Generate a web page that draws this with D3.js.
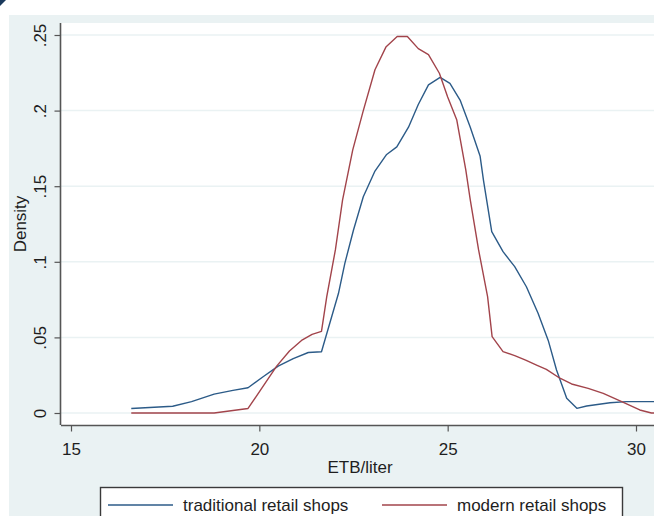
<!DOCTYPE html>
<html>
<head>
<meta charset="utf-8">
<script src="https://cdn.jsdelivr.net/npm/d3@7"></script>
<style>
	body { margin: 0; background: #fff; }
	text { font-family: "Liberation Sans", Arial, sans-serif; fill: #1e1e1e; }
</style>
</head>
<body>
<svg id="chart" width="654" height="516"></svg>
<script>
// ETB/liter vs density
const tradX = [16.6, 17.7, 18.2, 18.8, 19.3, 19.7, 20.1, 20.5, 20.9, 21.3, 21.65, 22.1, 22.27, 22.5, 22.76, 23.07, 23.38, 23.65, 23.96, 24.22, 24.49, 24.8, 25.06, 25.33, 25.6, 25.86, 25.95, 26.17, 26.47, 26.78, 27.09, 27.4, 27.67, 27.89, 28.16, 28.43, 28.69, 29.31, 29.75, 30.6]
const tradY = [.003, .0045, .0075, .0125, .015, .0167, .024, .031, .036, .040, .0405, .079, .099, .121, .143, .160, .171, .176, .189, .204, .217, .222, .218, .207, .189, .170, .154, .120, .1067, .0968, .0835, .066, .048, .0284, .0097, .0031, .0046, .0068, .0075, .0075]

const modX = [16.6, 18.8, 19.7, 20.46, 20.8, 21.12, 21.4, 21.65, 21.79, 22.02, 22.21, 22.48, 22.76, 23.07, 23.36, 23.66, 23.93, 24.22, 24.49, 24.78, 25.0, 25.24, 25.48, 25.6, 25.82, 26.06, 26.18, 26.47, 26.78, 27.07, 27.36, 27.62, 27.98, 28.29, 28.73, 29.13, 29.62, 30.1, 30.41, 30.6]
const modY = [0, 0, .003, .031, .041, .048, .052, .054, .077, .108, .141, .174, .200, .227, .242, .249, .249, .241, .237, .2247, .209, .194, .161, .141, .108, .077, .0505, .0406, .038, .035, .0317, .0289, .023, .0192, .0163, .013, .0075, .002, 0, 0]

const xTicks = [15, 20, 25, 30]
const yTicks = [0, .05, .1, .15, .2, .25]
const seriesNames = ["traditional retail shops", "modern retail shops"]
const seriesColors = ["#2c5b88", "#a2444b"]

const svg = d3.select("#chart")
const W = 654, H = 516

// stata-ish background
svg.append("rect").attr("x", 9).attr("y", 15).attr("width", W).attr("height", H).attr("fill", "#eaf2f3")
svg.append("path").attr("d", "M0,0 L6,0 L0,6 Z").attr("fill", "#1a3a5c")

const plotL = 61, plotT = 23, plotB = 425
svg.append("rect").attr("x", plotL).attr("y", plotT).attr("width", W - plotL).attr("height", plotB - plotT).attr("fill", "#fff")

const x = d3.scaleLinear().domain([15, 30]).range([71, 636])
const y = d3.scaleLinear().domain([0, .25]).range([413, 35])

const fmt = d => d === 0 ? "0" : String(d).replace(/^0/, "")

// grid
svg.append("g")
	.selectAll("line")
	.data(yTicks)
	.join("line")
		.attr("x1", plotL).attr("x2", W)
		.attr("y1", d => y(d)).attr("y2", d => y(d))
		.attr("stroke", "#eaf2f3").attr("stroke-width", 1.5)

// y axis
const yAxis = svg.append("g")
	.attr("transform", `translate(${plotL - 0.5},0)`)
	.call(d3.axisLeft(y).tickValues(yTicks).tickFormat(fmt).tickSize(6).tickPadding(0))
yAxis.select(".domain").attr("d", `M0,${plotT}V${plotB}`).attr("stroke", "#555").attr("stroke-width", 1.6)
yAxis.selectAll(".tick line").attr("stroke", "#555").attr("stroke-width", 1.2)
yAxis.selectAll(".tick text")
	.attr("x", null).attr("dy", null)
	.attr("transform", "translate(-15,0) rotate(-90)")
	.attr("text-anchor", "middle")
	.style("font-size", "17px")
	.style("font-family", "'Liberation Sans', Arial, sans-serif")
	.attr("fill", "#1e1e1e")

// x axis
const xAxis = svg.append("g")
	.attr("transform", `translate(0,${plotB + 0.5})`)
	.call(d3.axisBottom(x).tickValues(xTicks).tickFormat(d3.format("d")).tickSize(6).tickPadding(0))
xAxis.select(".domain").attr("d", `M${plotL},0H${W}`).attr("stroke", "#555").attr("stroke-width", 1.6)
xAxis.selectAll(".tick line").attr("stroke", "#555").attr("stroke-width", 1.2)
xAxis.selectAll(".tick text")
	.attr("y", 29.5).attr("dy", null)
	.style("font-size", "17px")
	.style("font-family", "'Liberation Sans', Arial, sans-serif")
	.attr("fill", "#1e1e1e")

svg.append("text")
	.attr("x", 360).attr("y", 472.5)
	.attr("text-anchor", "middle")
	.style("font-size", "17px")
	.text("ETB/liter")

svg.append("text")
	.attr("transform", `translate(26,${(plotT + plotB) / 2}) rotate(-90)`)
	.attr("text-anchor", "middle")
	.style("font-size", "17px")
	.text("Density")

// curves
const line = d3.line().x(d => x(d[0])).y(d => y(d[1]))
const curves = [d3.zip(tradX, tradY), d3.zip(modX, modY)]

svg.append("defs").append("clipPath").attr("id", "plotClip")
	.append("rect").attr("x", plotL).attr("y", plotT).attr("width", W - plotL).attr("height", plotB - plotT)

svg.append("g")
	.attr("clip-path", "url(#plotClip)")
	.selectAll("path")
	.data(curves)
	.join("path")
		.attr("d", line)
		.attr("fill", "none")
		.attr("stroke", (d, i) => seriesColors[i])
		.attr("stroke-width", 1.4)
		.attr("stroke-linejoin", "round")

// legend
const legend = svg.append("g")
legend.append("rect")
	.attr("x", 100.5).attr("y", 487.5).attr("width", 522).attr("height", 40)
	.attr("fill", "#fff").attr("stroke", "#3a3a3a").attr("stroke-width", 1.4)

const legX = [108, 382]
const entry = legend.selectAll("g.entry")
	.data(seriesNames)
	.join("g")
		.classed("entry", true)
		.attr("transform", (d, i) => `translate(${legX[i]},505)`)
entry.append("line")
	.attr("x1", 0).attr("x2", 65)
	.attr("stroke", (d, i) => seriesColors[i]).attr("stroke-width", 1.4)
entry.append("text")
	.attr("x", 75).attr("y", 6)
	.style("font-size", "17px")
	.text(d => d)
</script>
</body>
</html>
